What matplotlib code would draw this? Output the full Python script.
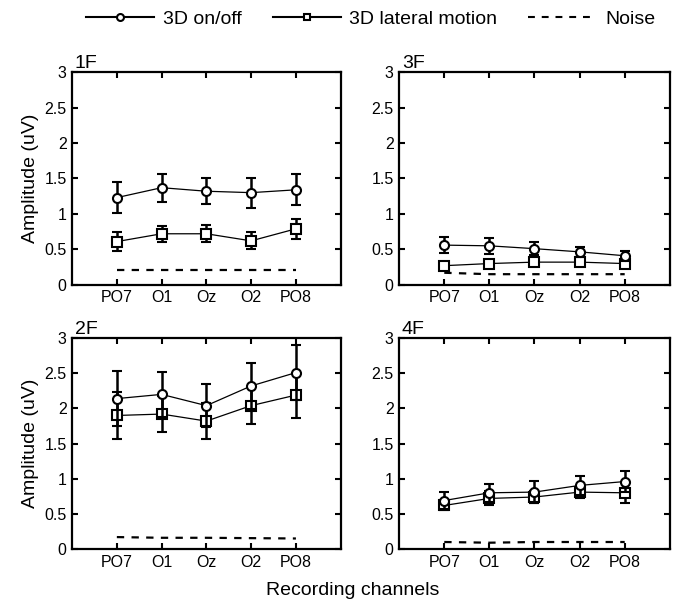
import numpy as np
import matplotlib
matplotlib.use('Agg')
import matplotlib.pyplot as plt
from matplotlib.lines import Line2D

plt.rcParams['font.family'] = ['Liberation Sans', 'DejaVu Sans']

# channels and per-panel amplitudes (uV)
channels = ['PO7', 'O1', 'Oz', 'O2', 'PO8']
panels = ['1F', '3F', '2F', '4F']

onoff = {
    '1F': [1.23, 1.37, 1.32, 1.30, 1.34],
    '3F': [0.56, 0.55, 0.51, 0.465, 0.41],
    '2F': [2.14, 2.20, 2.04, 2.32, 2.51],
    '4F': [0.69, 0.80, 0.81, 0.905, 0.96],
}
onoff_err = {
    '1F': [0.22, 0.20, 0.18, 0.21, 0.22],
    '3F': [0.11, 0.11, 0.09, 0.07, 0.07],
    '2F': [0.39, 0.32, 0.31, 0.33, 0.39],
    '4F': [0.12, 0.13, 0.16, 0.14, 0.15],
}
lateral = {
    '1F': [0.61, 0.72, 0.72, 0.62, 0.79],
    '3F': [0.27, 0.30, 0.32, 0.32, 0.30],
    '2F': [1.90, 1.92, 1.82, 2.04, 2.19],
    '4F': [0.62, 0.72, 0.74, 0.81, 0.80],
}
lateral_err = {
    '1F': [0.14, 0.11, 0.12, 0.12, 0.14],
    '3F': [0.03, 0.03, 0.04, 0.04, 0.04],
    '2F': [0.34, 0.26, 0.26, 0.26, 0.32],
    '4F': [0.07, 0.10, 0.09, 0.09, 0.15],
}
noise = {
    '1F': [0.21, 0.21, 0.21, 0.21, 0.21],
    '3F': [0.17, 0.15, 0.15, 0.15, 0.15],
    '2F': [0.17, 0.16, 0.16, 0.155, 0.15],
    '4F': [0.10, 0.09, 0.10, 0.10, 0.10],
}

fig = plt.figure(figsize=(6.8, 6.06), dpi=100)

# axes boxes in figure fractions
boxes = {
    '1F': [0.106, 0.530, 0.395, 0.351],
    '3F': [0.587, 0.530, 0.398, 0.351],
    '2F': [0.106, 0.094, 0.395, 0.348],
    '4F': [0.587, 0.094, 0.398, 0.348],
}

x = np.arange(1, len(channels) + 1)
noise_ls = (0, (3.3, 3.3))

for p in panels:
    ax = fig.add_axes(boxes[p])
    ax.plot(x, noise[p], color='black', lw=1.6, ls=noise_ls, zorder=1)
    ax.errorbar(x, lateral[p], yerr=lateral_err[p], color='black', lw=0.9,
                elinewidth=1.8, capsize=3.5, capthick=1.8, marker='s', ms=6.5,
                mfc='white', mec='black', mew=1.5, zorder=2)
    ax.errorbar(x, onoff[p], yerr=onoff_err[p], color='black', lw=0.9,
                elinewidth=1.8, capsize=3.5, capthick=1.8, marker='o', ms=6.5,
                mfc='white', mec='black', mew=1.5, zorder=3)
    ax.set_xlim(0, 6)
    ax.set_ylim(0, 3)
    ax.set_xticks(x)
    ax.set_xticklabels(channels)
    ax.set_yticks(np.arange(0, 3.01, 0.5))
    ax.set_yticklabels(['0', '0.5', '1', '1.5', '2', '2.5', '3'])
    ax.tick_params(direction='in', top=True, right=True, length=4, width=1.5,
                   labelsize=11.5, pad=4)
    for s in ax.spines.values():
        s.set_linewidth(1.6)
    ax.text(0.01, 1.0, p, transform=ax.transAxes, fontsize=14,
            ha='left', va='bottom')
    if p in ('1F', '2F'):
        ax.set_ylabel('Amplitude (uV)', fontsize=14, labelpad=4)

fig.text(0.518, 0.026, 'Recording channels', fontsize=14, ha='center', va='center')

handles = [
    Line2D([], [], color='black', lw=1.5, marker='o', ms=5, mfc='white', mec='black', mew=1.5),
    Line2D([], [], color='black', lw=1.5, marker='s', ms=5, mfc='white', mec='black', mew=1.5),
    Line2D([], [], color='black', lw=1.5, ls=noise_ls),
]
fig.legend(handles, ['3D on/off', '3D lateral motion', 'Noise'], loc='center',
           bbox_to_anchor=(0.545, 0.968), ncol=3, frameon=False, fontsize=14,
           handlelength=3.5, handletextpad=0.45, columnspacing=1.6)

fig.savefig('out.png', dpi=100)
